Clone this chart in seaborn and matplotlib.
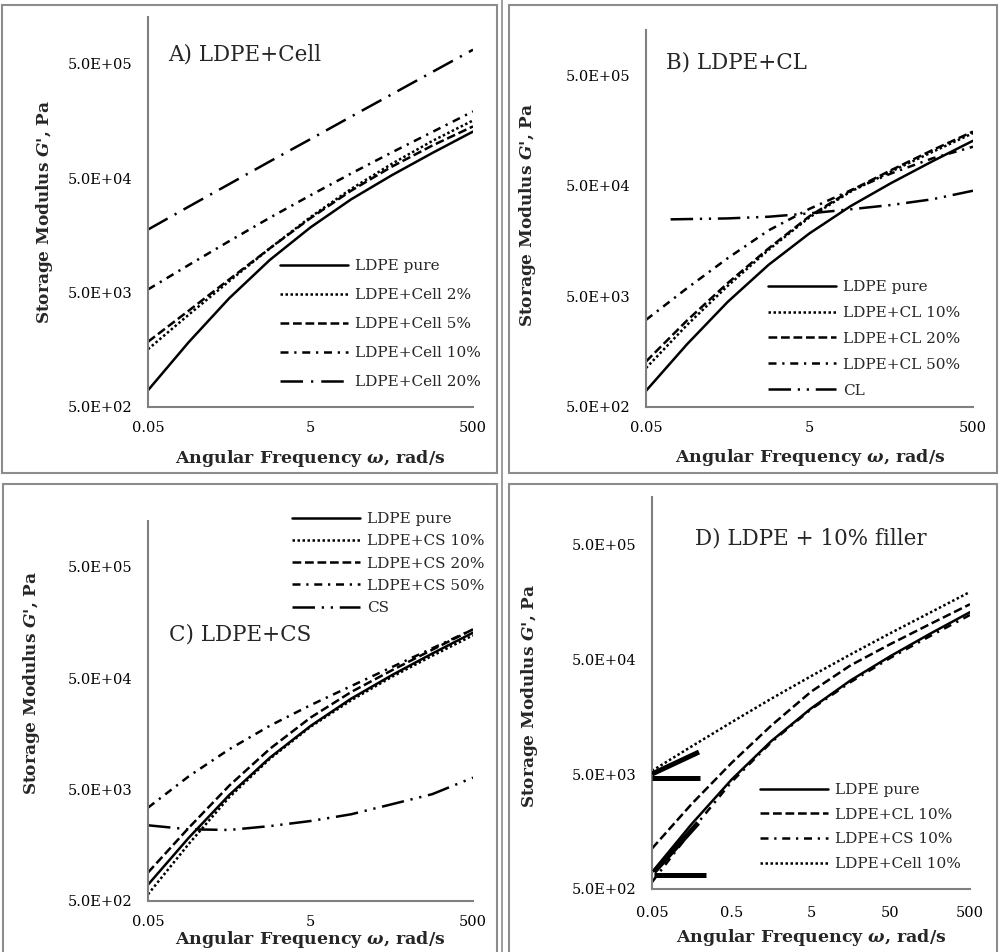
import matplotlib
matplotlib.use("Agg")
import matplotlib.pyplot as plt
import seaborn as sns
from matplotlib.patches import Rectangle
from matplotlib.lines import Line2D
from matplotlib.ticker import FixedLocator, FixedFormatter, NullLocator

sns.set_theme(style="white")
plt.rcParams["font.family"] = ["DejaVu Serif"]
plt.rcParams["mathtext.fontset"] = "custom"
plt.rcParams["mathtext.it"] = "DejaVu Serif:italic:bold"
plt.rcParams["mathtext.rm"] = "DejaVu Serif:bold"

# ---- data: storage modulus G' (Pa) vs angular frequency (rad/s) ----
freq = [0.05, 0.158, 0.5, 1.58, 5, 15.8, 50, 158, 500]
freq_filler = [0.1, 0.5, 1.58, 5, 15.8, 50, 158, 500]

ldpe_pure = [700, 1840, 4470, 9660, 18600, 32700, 53100, 83200, 128000]

cell_2 = [1600, 3200, 6300, 12200, 22900, 40300, 66800, 106000, 160000]
cell_5 = [1860, 3470, 6530, 12200, 22400, 38900, 63100, 96600, 142000]
cell_10 = [5330, 8710, 14100, 22600, 35500, 55000, 84100, 127000, 192000]
cell_20 = [17800, 28200, 44500, 70200, 110000, 173000, 271000, 425000, 665000]

cl_10 = [1125, 2750, 6240, 13200, 26000, 44200, 67600, 101000, 150000]
cl_20 = [1290, 3020, 6610, 13600, 26600, 45200, 69500, 105000, 155000]
cl_50 = [3070, 5920, 11100, 19800, 31000, 45400, 64900, 88500, 113000]
cl_pure = [24900, 25400, 26300, 28200, 30700, 33600, 37800, 45200]

cs_10 = [574, 1620, 4270, 9440, 18300, 31600, 51300, 79400, 121000]
cs_20 = [900, 2260, 5420, 11600, 22100, 37500, 58700, 90000, 137000]
cs_50 = [3440, 6560, 11500, 18700, 28600, 42400, 62700, 92700, 137000]
cs_pure = [2390, 2200, 2170, 2350, 2610, 3000, 3690, 4550, 6400]

y_ticks = [500, 5000, 50000, 500000]
y_tick_labels = ["5.0E+02", "5.0E+03", "5.0E+04", "5.0E+05"]
x_ticks_wide = [0.05, 5, 500]
x_tick_labels_wide = ["0.05", "5", "500"]
x_ticks_fine = [0.05, 0.5, 5, 50, 500]
x_tick_labels_fine = ["0.05", "0.5", "5", "50", "500"]

# line styles (dash patterns in units of line width)
LS = {
    "solid": "-",
    "dotted": (0, (1.0, 1.0)),
    "dashed": (0, (3.5, 1.5)),
    "dashdot": (0, (3.2, 2.3, 0.9, 2.3)),
    "longdashdot": (0, (9.0, 3.2, 0.9, 3.2)),
    "longdashdotdot": (0, (9.0, 2.7, 0.9, 2.7, 0.9, 2.7)),
}
LW = 1.8
GRAY = "#808080"

W, H = 1000, 952
fig = plt.figure(figsize=(W / 100, H / 100), dpi=100)
fig.patch.set_facecolor("white")


def fx(x):
    return x / W


def fy(y):
    return 1 - y / H


def add_axes(left, right, top, bottom):
    return fig.add_axes([fx(left), fy(bottom), (right - left) / W, (bottom - top) / H])


panels = [
    dict(
        box=(148, 473, 17, 407),
        title="A) LDPE+Cell", title_xy=(168, 54),
        series=[
            ("LDPE pure", freq, ldpe_pure, "solid"),
            ("LDPE+Cell 2%", freq, cell_2, "dotted"),
            ("LDPE+Cell 5%", freq, cell_5, "dashed"),
            ("LDPE+Cell 10%", freq, cell_10, "dashdot"),
            ("LDPE+Cell 20%", freq, cell_20, "longdashdot"),
        ],
        legend=(280, 259, 0.98),
        xticks=(x_ticks_wide, x_tick_labels_wide),
        xlabel_xy=(310, 458), ylabel_xy=(45, 212),
    ),
    dict(
        box=(646, 973, 30, 407),
        title="B) LDPE+CL", title_xy=(666, 63),
        series=[
            ("LDPE pure", freq, ldpe_pure, "solid"),
            ("LDPE+CL 10%", freq, cl_10, "dotted"),
            ("LDPE+CL 20%", freq, cl_20, "dashed"),
            ("LDPE+CL 50%", freq, cl_50, "dashdot"),
            ("CL", freq_filler, cl_pure, "longdashdotdot"),
        ],
        legend=(768, 280, 0.78),
        xticks=(x_ticks_wide, x_tick_labels_wide),
        xlabel_xy=(810, 457), ylabel_xy=(528, 215),
    ),
    dict(
        box=(148, 473, 521, 901),
        title="C) LDPE+CS", title_xy=(169, 635),
        series=[
            ("LDPE pure", freq, ldpe_pure, "solid"),
            ("LDPE+CS 10%", freq, cs_10, "dotted"),
            ("LDPE+CS 20%", freq, cs_20, "dashed"),
            ("LDPE+CS 50%", freq, cs_50, "dashdot"),
            ("CS", freq, cs_pure, "longdashdotdot"),
        ],
        legend=(292, 512, 0.54),
        xticks=(x_ticks_wide, x_tick_labels_wide),
        xlabel_xy=(310, 939), ylabel_xy=(32, 683),
    ),
    dict(
        box=(652, 970, 497, 889),
        title="D) LDPE + 10% filler", title_xy=(695, 539),
        series=[
            ("LDPE pure", freq, ldpe_pure, "solid"),
            ("LDPE+CL 10%", freq, cl_10, "dashed"),
            ("LDPE+CS 10%", freq, cs_10, "dashdot"),
            ("LDPE+Cell 10%", freq, cell_10, "dotted"),
        ],
        legend=(760, 783, 0.70),
        xticks=(x_ticks_fine, x_tick_labels_fine),
        xlabel_xy=(811, 938), ylabel_xy=(530, 696),
    ),
]

# thick pointer marks drawn near the start of the curves in panel D
pointer_marks = [
    ([0.05, 0.195], [5000, 7770]),
    ([0.05, 0.20], [4620, 4620]),
    ([0.053, 0.19], [703, 1877]),
    ([0.053, 0.239], [662, 662]),
]

Y_MIN = 500
Y_MAX = 500 * 10 ** 3.41

for i, p in enumerate(panels):
    ax = add_axes(*p["box"])
    ax.set_xscale("log")
    ax.set_yscale("log")
    handles = []
    for label, xs, ys, style in p["series"]:
        sns.lineplot(x=xs, y=ys, ax=ax, color="black", linewidth=LW,
                     estimator=None, sort=False, legend=False)
        line = ax.lines[-1]
        line.set_linestyle(LS[style])
        line.set_dash_capstyle("butt")
        line.set_solid_joinstyle("round")
        handles.append(Line2D([], [], color="black", lw=LW, linestyle=LS[style],
                              dash_capstyle="butt", label=label))

    if i == 3:
        for mx, my in pointer_marks:
            ax.plot(mx, my, color="black", lw=3.6, solid_capstyle="butt", zorder=5)

    ax.set_xlim(0.05, 500)
    ax.set_ylim(Y_MIN, Y_MAX)
    ax.set_xlabel("")
    ax.set_ylabel("")

    ax.yaxis.set_major_locator(FixedLocator(y_ticks))
    ax.yaxis.set_major_formatter(FixedFormatter(y_tick_labels))
    ax.yaxis.set_minor_locator(NullLocator())
    xt, xl = p["xticks"]
    ax.xaxis.set_major_locator(FixedLocator(xt))
    ax.xaxis.set_major_formatter(FixedFormatter(xl))
    ax.xaxis.set_minor_locator(NullLocator())

    for side in ("top", "right"):
        ax.spines[side].set_visible(False)
    for side in ("left", "bottom"):
        ax.spines[side].set_color(GRAY)
        ax.spines[side].set_linewidth(1.5)
    ax.set_facecolor("none")
    ax.grid(False)
    ax.tick_params(axis="both", which="major", direction="out", length=4,
                   width=1.2, color=GRAY, labelsize=10.5, labelcolor="black")
    ax.tick_params(axis="y", pad=7.5)
    ax.tick_params(axis="x", pad=6 if i != 3 else 8)

    lx, ly, lsp = p["legend"]
    ax.legend(handles=handles, loc="upper left",
              bbox_to_anchor=(fx(lx), fy(ly)), bbox_transform=fig.transFigure,
              frameon=False, fontsize=11, handlelength=4.45,
              handletextpad=0.45, labelspacing=lsp, borderpad=0,
              borderaxespad=0)

    tx, ty = p["title_xy"]
    fig.text(fx(tx), fy(ty), p["title"], fontsize=15.5, ha="left", va="center")

    xx, xy = p["xlabel_xy"]
    fig.text(fx(xx), fy(xy), r"Angular Frequency $\omega$, rad/s", fontsize=12.5,
             fontweight="bold", ha="center", va="center")
    yx, yy = p["ylabel_xy"]
    fig.text(fx(yx), fy(yy), r"Storage Modulus $G$', Pa", fontsize=12.2,
             fontweight="bold", ha="center", va="center", rotation=90)

# panel frames
frames = [(2, 5, 497, 473), (509, 5, 997, 473), (3, 484, 497, 960), (509, 484, 997, 960)]
for x0, y0, x1, y1 in frames:
    fig.add_artist(Rectangle((fx(x0), fy(y1)), (x1 - x0) / W, (y1 - y0) / H,
                             transform=fig.transFigure, fill=False,
                             edgecolor="#8c8c8c", linewidth=1.5))
fig.add_artist(Line2D([fx(502), fx(502)], [0, 1], transform=fig.transFigure,
                      color="#8c8c8c", linewidth=1.2))

fig.savefig("out.png", dpi=100, facecolor="white")
